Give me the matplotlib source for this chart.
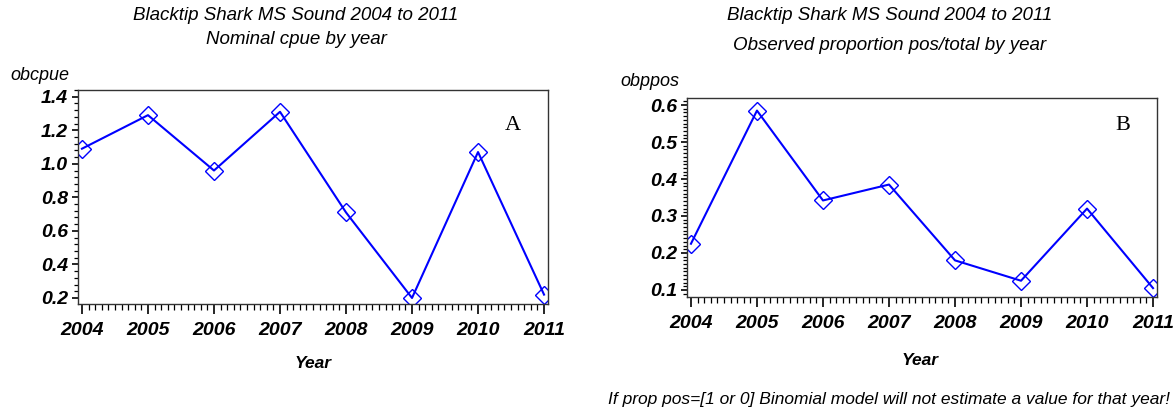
import matplotlib
matplotlib.use("Agg")
import matplotlib.pyplot as plt
from matplotlib.ticker import MultipleLocator

years = [2004, 2005, 2006, 2007, 2008, 2009, 2010, 2011]
obcpue = [1.09, 1.29, 0.96, 1.31, 0.71, 0.20, 1.07, 0.22]
obppos = [0.225, 0.585, 0.342, 0.385, 0.180, 0.125, 0.320, 0.105]
cpue_ticks = [0.2, 0.4, 0.6, 0.8, 1.0, 1.2, 1.4]
pos_ticks = [0.1, 0.2, 0.3, 0.4, 0.5, 0.6]

W, H = 1175, 415
fig = plt.figure(figsize=(W / 100, H / 100), dpi=100)
FONT = "Liberation Sans"


def box(l, t, r, b):
    return [l / W, 1 - b / H, (r - l) / W, (b - t) / H]


def fx(x):
    return x / W


def fy(y):
    return 1 - y / H


def style(ax, vals, ylim, yticks, yminor):
    ax.plot(years, vals, color="#0000ff", lw=1.5, marker="D", ms=9,
            mfc="none", mec="#0000ff", mew=1.0)
    ax.set_xlim(2004 - 0.06, 2011 + 0.06)
    ax.set_ylim(*ylim)
    ax.set_xticks(years)
    ax.set_xticklabels([str(y) for y in years])
    ax.xaxis.set_minor_locator(MultipleLocator(0.1))
    ax.set_yticks(yticks)
    ax.set_yticklabels([f"{v:.1f}" for v in yticks])
    ax.yaxis.set_minor_locator(MultipleLocator(yminor))
    ax.tick_params(axis="x", which="major", direction="out", length=7,
                   width=1.2, labelsize=14, pad=6)
    ax.tick_params(axis="x", which="minor", direction="out", length=4,
                   width=0.9)
    ax.tick_params(axis="y", which="major", direction="out", length=4.5,
                   width=1.2, labelsize=14, pad=2.5)
    ax.tick_params(axis="y", which="minor", direction="out", length=3,
                   width=0.9)
    for lab in ax.get_xticklabels() + ax.get_yticklabels():
        lab.set_fontfamily(FONT)
        lab.set_fontweight("bold")
        lab.set_fontstyle("italic")
    for s in ax.spines.values():
        s.set_linewidth(1.0)
        s.set_color("#333333")


axA = fig.add_axes(box(78, 90, 548, 304))
style(axA, obcpue, (0.164, 1.44), cpue_ticks, 0.04)
fig.text(fx(513), fy(125), "A", fontsize=16, family="Liberation Serif",
         ha="center", va="center")

axB = fig.add_axes(box(687, 98, 1157, 297))
style(axB, obppos, (0.081, 0.619), pos_ticks, 0.01)
fig.text(fx(1123), fy(125), "B", fontsize=16, family="Liberation Serif",
         ha="center", va="center")

tkw = dict(family=FONT, style="italic", fontsize=13.5, ha="center",
           va="center")
fig.text(fx(296), fy(16), "Blacktip Shark MS Sound 2004 to 2011", **tkw)
fig.text(fx(296), fy(40), "Nominal cpue by year", **tkw)
fig.text(fx(890), fy(16), "Blacktip Shark MS Sound 2004 to 2011", **tkw)
fig.text(fx(890), fy(45), "Observed proportion pos/total by year", **tkw)

fig.text(fx(10), fy(76), "obcpue", family=FONT, style="italic",
         fontsize=13, ha="left", va="center")
fig.text(fx(620), fy(82), "obppos", family=FONT, style="italic",
         fontsize=13, ha="left", va="center")
fig.text(fx(313), fy(363), "Year", family=FONT, style="italic",
         fontweight="bold", fontsize=12.5, ha="center", va="center")
fig.text(fx(920), fy(360), "Year", family=FONT, style="italic",
         fontweight="bold", fontsize=12.5, ha="center", va="center")
fig.text(fx(1170), fy(399),
         "If prop pos=[1 or 0] Binomial model will not estimate a value for that year!",
         family=FONT, style="italic", fontsize=12.5, ha="right", va="center")

fig.savefig("out.png", dpi=100)
